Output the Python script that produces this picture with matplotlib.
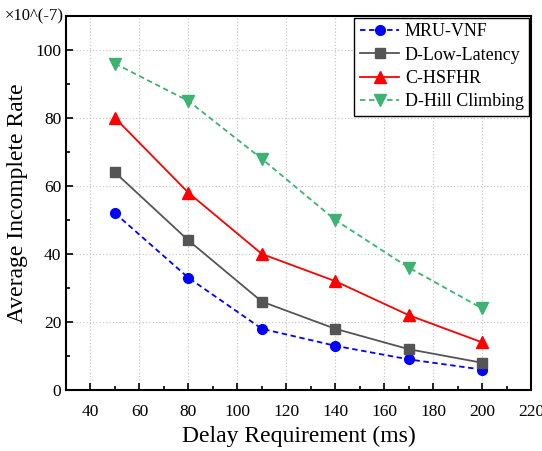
import matplotlib
matplotlib.use("Agg")
import matplotlib.pyplot as plt
import matplotlib.ticker as ticker

plt.rcParams["font.family"] = "Liberation Serif"

delays = [50, 80, 110, 140, 170, 200]
mru_vnf = [52, 33, 18, 13, 9, 6]
d_low_latency = [64, 44, 26, 18, 12, 8]
c_hsfhr = [80, 58, 40, 32, 22, 14]
d_hill = [96, 85, 68, 50, 36, 24]

fig = plt.figure(figsize=(5.42, 4.51), dpi=100, facecolor="white")
ax = fig.add_axes([0.1218, 0.1353, 0.858, 0.8293])

ax.plot(delays, mru_vnf, color="#0000FF", linestyle=(0, (3, 2)), linewidth=1.3,
        marker="o", markersize=7, label="MRU-VNF")
ax.plot(delays, d_low_latency, color="#555555", linestyle="-", linewidth=1.3,
        marker="s", markersize=6.5, label="D-Low-Latency")
ax.plot(delays, c_hsfhr, color="#FF0000", linestyle="-", linewidth=1.3,
        marker="^", markersize=8, label="C-HSFHR")
ax.plot(delays, d_hill, color="#3CB371", linestyle=(0, (3, 2)), linewidth=1.3,
        marker="v", markersize=8, label="D-Hill Climbing")

ax.set_xlim(30, 220)
ax.set_ylim(0, 110)
ax.xaxis.set_major_locator(ticker.MultipleLocator(20))
ax.xaxis.set_minor_locator(ticker.MultipleLocator(10))
ax.yaxis.set_major_locator(ticker.MultipleLocator(20))
ax.yaxis.set_minor_locator(ticker.MultipleLocator(10))
ax.tick_params(which="both", direction="in", labelsize=12.5, width=1.2)
ax.tick_params(which="major", length=5)
ax.tick_params(which="minor", length=3)
ax.tick_params(axis="x", pad=10)
ax.grid(which="major", color="#c8c8c8", linestyle=":", linewidth=0.9)
for s in ax.spines.values():
    s.set_linewidth(1.5)

ax.set_xlabel("Delay Requirement (ms)", fontsize=17, labelpad=4)
ax.set_ylabel("Average Incomplete Rate", fontsize=17, labelpad=5)
ax.text(-0.005, 1.0, "×10^(-7)", transform=ax.transAxes, ha="right", va="center",
        fontsize=12)

leg = ax.legend(loc="upper right", fontsize=13, fancybox=False, edgecolor="black",
                framealpha=1, borderpad=0.3, labelspacing=0.35, handlelength=2.2,
                handletextpad=0.3, borderaxespad=0.1)
leg.get_frame().set_linewidth(1.0)

fig.savefig("out.png", dpi=100, facecolor="white")
